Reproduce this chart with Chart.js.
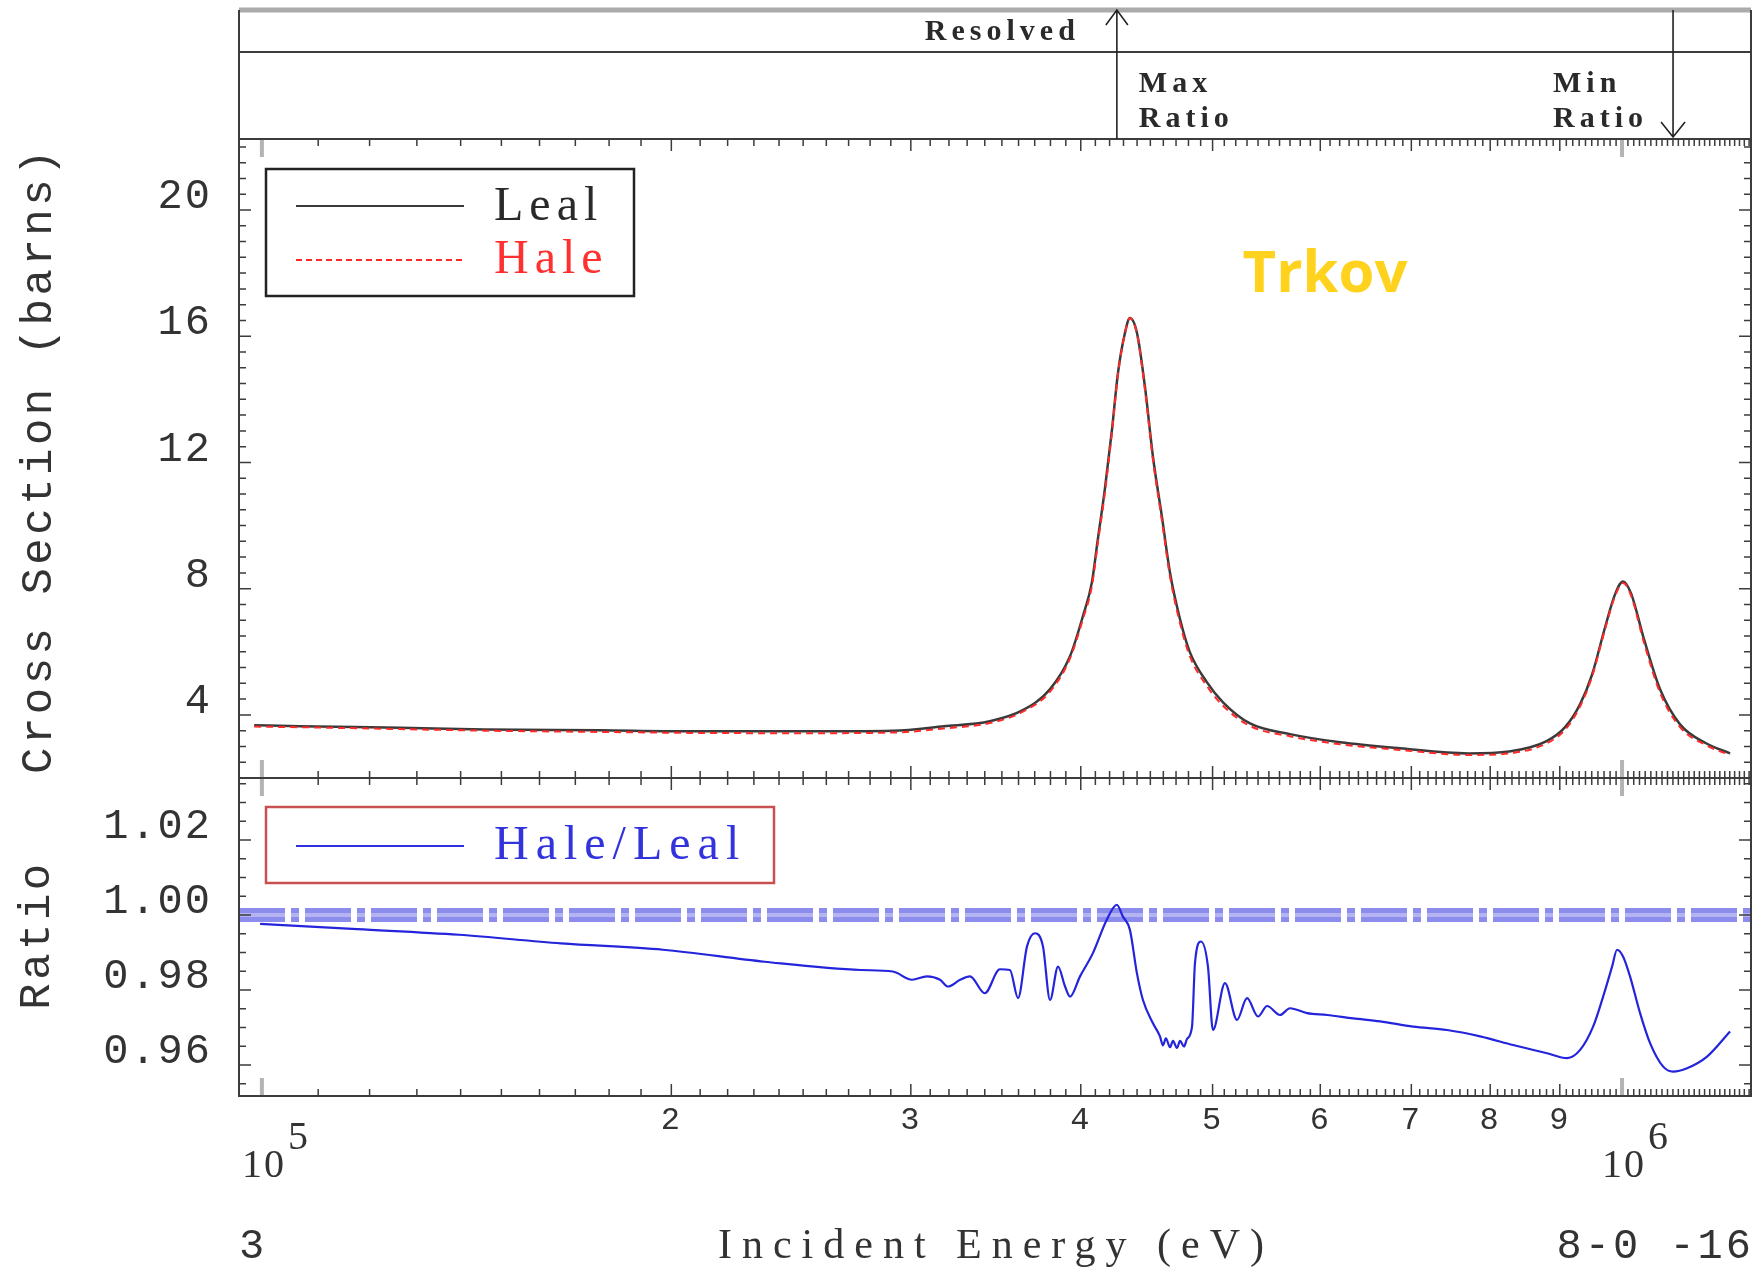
<!DOCTYPE html>
<html lang="en">
<head>
<meta charset="UTF-8">
<title>Cross Section - Hale / Leal</title>
<script src="https://cdn.jsdelivr.net/npm/chart.js"></script>
<style>
  body { margin: 0; background: #fff; }
  .wrap { position: relative; width: 1762px; height: 1275px; }
  .wrap canvas { position: absolute; left: 0; top: 0; }
</style>
</head>
<body>
<div class="wrap">
  <canvas id="xsChart" width="1762" height="1275"></canvas>
  <canvas id="ratioChart" width="1762" height="1275"></canvas>
</div>
<script>
// incident energy (eV) of the cross section points
const xsEnergy = [9.87e4, 1.067e5, 1.263e5, 1.459e5, 1.772e5, 2.061e5, 2.487e5, 2.910e5, 3.173e5, 3.429e5,
  3.626e5, 3.796e5, 3.927e5, 4.014e5, 4.076e5, 4.117e5, 4.166e5, 4.217e5, 4.260e5, 4.311e5,
  4.347e5, 4.399e5, 4.459e5, 4.520e5, 4.589e5, 4.652e5, 4.732e5, 4.812e5, 4.953e5, 5.089e5,
  5.327e5, 5.700e5, 6.205e5, 6.868e5, 7.706e5, 8.260e5, 8.794e5, 9.081e5, 9.315e5, 9.506e5,
  9.716e5, 9.882e5, 1.0017e6, 1.0154e6, 1.0380e6, 1.0665e6, 1.1032e6, 1.1528e6, 1.2007e6];
// cross sections (barns)
const lealXs = [3.67, 3.64, 3.59, 3.54, 3.51, 3.48, 3.48, 3.50, 3.64, 3.80,
  4.15, 4.81, 5.85, 7.12, 8.20, 9.56, 11.14, 13.04, 14.84, 16.11,
  16.58, 16.11, 14.40, 12.18, 10.28, 8.51, 7.03, 5.98, 5.03, 4.40,
  3.73, 3.39, 3.13, 2.94, 2.78, 2.84, 3.16, 3.61, 4.34, 5.28,
  6.77, 7.82, 8.23, 7.85, 6.39, 4.81, 3.70, 3.10, 2.78];
const haleXs = [3.63, 3.61, 3.55, 3.50, 3.46, 3.43, 3.42, 3.44, 3.57, 3.74,
  4.10, 4.73, 5.78, 7.03, 8.08, 9.44, 11.02, 12.96, 14.80, 16.10,
  16.58, 16.08, 14.31, 12.08, 10.16, 8.39, 6.90, 5.85, 4.91, 4.29,
  3.65, 3.32, 3.07, 2.89, 2.73, 2.78, 3.09, 3.53, 4.27, 5.22,
  6.71, 7.76, 8.18, 7.78, 6.28, 4.70, 3.61, 3.04, 2.73];

// Hale/Leal ratio
const ratioEnergy = [9.97e4, 1.175e5, 1.396e5, 1.659e5, 1.972e5, 2.343e5, 2.757e5, 2.910e5, 3.006e5, 3.083e5,
  3.152e5, 3.195e5, 3.261e5, 3.316e5, 3.400e5, 3.488e5, 3.548e5, 3.597e5, 3.652e5, 3.702e5,
  3.752e5, 3.797e5, 3.849e5, 3.895e5, 3.928e5, 3.995e5, 4.083e5, 4.180e5, 4.252e5, 4.295e5,
  4.347e5, 4.399e5, 4.444e5, 4.520e5, 4.574e5, 4.597e5, 4.620e5, 4.652e5, 4.676e5, 4.707e5,
  4.732e5, 4.764e5, 4.788e5, 4.829e5, 4.853e5, 4.903e5, 4.961e5, 5.003e5, 5.106e5, 5.211e5,
  5.300e5, 5.400e5, 5.483e5, 5.605e5, 5.700e5, 5.867e5, 6.070e5, 6.344e5, 6.640e5, 7.021e5,
  7.437e5, 7.864e5, 8.316e5, 8.808e5, 9.112e5, 9.315e5, 9.522e5, 9.685e5, 9.833e5, 9.916e5,
  1.0017e6, 1.0136e6, 1.0310e6, 1.0486e6, 1.0718e6, 1.0902e6, 1.1163e6, 1.1548e6, 1.2007e6];
const ratioValues = [0.9976, 0.9962, 0.9947, 0.9924, 0.9907, 0.9875, 0.9853, 0.9849, 0.9827, 0.9836,
  0.9827, 0.9809, 0.9827, 0.9836, 0.9791, 0.9855, 0.9853, 0.9778, 0.9916, 0.9951,
  0.9916, 0.9773, 0.9862, 0.9809, 0.9782, 0.9836, 0.9898, 0.9987, 1.0027, 0.9996,
  0.9960, 0.9844, 0.9773, 0.9711, 0.9676, 0.9652, 0.9671, 0.9647, 0.9664, 0.9645,
  0.9664, 0.9649, 0.9669, 0.9702, 0.9871, 0.9929, 0.9862, 0.9693, 0.9818, 0.9720,
  0.9778, 0.9729, 0.9757, 0.9733, 0.9751, 0.9738, 0.9733, 0.9724, 0.9716, 0.9702,
  0.9693, 0.9676, 0.9653, 0.9631, 0.9618, 0.9640, 0.9702, 0.9782, 0.9862, 0.9907,
  0.9889, 0.9836, 0.9738, 0.9658, 0.9596, 0.9582, 0.9591, 0.9622, 0.9689];

// axes
const X_MIN = 9.62e4, X_MAX = 1.244e6;
const xsTicks = [4, 8, 12, 16, 20];
const ratioTicks = [0.96, 0.98, 1.00, 1.02];
const energyTicks = [1e5, 2e5, 3e5, 4e5, 5e5, 6e5, 7e5, 8e5, 9e5, 1e6];
const energyTickLabels = ['', '2', '3', '4', '5', '6', '7', '8', '9', ''];
const decadeTicks = [1e5, 1e6];
const decadeExp = ['5', '6'];
const unityEnergy = [X_MIN, X_MAX];
const unityValues = [1, 1];

// energies of the max / min ratio, marked in the header
const maxRatioE = ratioEnergy[ratioValues.indexOf(Math.max(...ratioValues))];
const minRatioE = ratioEnergy[ratioValues.indexOf(Math.min(...ratioValues))];

const toPoints = (xs, ys) => xs.map((x, i) => ({ x: x, y: ys[i] }));

Chart.defaults.font.family = 'Liberation Mono';
Chart.defaults.color = '#333';

function frameAndTicks(chart, yVals, isMajor) {
  const { ctx, chartArea: a } = chart;
  const xs = chart.scales.x, ys = chart.scales.y;
  ctx.save();
  ctx.strokeStyle = '#3c3c3c';
  ctx.lineWidth = 1.5;
  ctx.beginPath();
  for (let k = 11; k <= 124; k++) {
    if (k === 100) continue;
    const px = xs.getPixelForValue(k * 1e4);
    const len = (k < 100 && k % 10 === 0) ? 12 : 7;
    ctx.moveTo(px, a.top); ctx.lineTo(px, a.top + len);
    ctx.moveTo(px, a.bottom); ctx.lineTo(px, a.bottom - len);
  }
  yVals.forEach(v => {
    const py = ys.getPixelForValue(v);
    const len = isMajor(v) ? 12 : 7;
    ctx.moveTo(a.left, py); ctx.lineTo(a.left + len, py);
    ctx.moveTo(a.right, py); ctx.lineTo(a.right - len, py);
  });
  ctx.stroke();

  ctx.strokeStyle = '#b4b4b4';
  ctx.lineWidth = 4;
  ctx.beginPath();
  decadeTicks.forEach(d => {
    const px = xs.getPixelForValue(d);
    ctx.moveTo(px, a.top); ctx.lineTo(px, a.top + 18);
    ctx.moveTo(px, a.bottom); ctx.lineTo(px, a.bottom - 18);
  });
  ctx.stroke();

  ctx.strokeStyle = '#3c3c3c';
  ctx.lineWidth = 2;
  ctx.strokeRect(a.left, a.top, a.width, a.height);
  ctx.restore();
}

function text(ctx, str, x, y, font, color, align, spacing) {
  ctx.font = font;
  ctx.fillStyle = color;
  ctx.textAlign = align;
  ctx.textBaseline = 'middle';
  ctx.letterSpacing = spacing + 'px';
  ctx.fillText(str, x, y);
}

function vText(ctx, str, x, y, font, spacing) {
  ctx.save();
  ctx.translate(x, y);
  ctx.rotate(-Math.PI / 2);
  text(ctx, str, 0, 0, font, '#333', 'center', spacing);
  ctx.restore();
}

// minor tick values
const xsMinor = [];
for (let k = 4; k <= 44; k++) xsMinor.push(k / 2);
const ratioMinor = [];
for (let k = 191; k <= 207; k++) ratioMinor.push(k / 200);

const xsDecor = {
  id: 'xsDecor',
  beforeDraw(chart) { chart.ctx.letterSpacing = '2px'; },
  afterDraw(chart) {
    const { ctx, chartArea: a } = chart;
    const xs = chart.scales.x;
    frameAndTicks(chart, xsMinor, v => v % 4 === 0);

    ctx.save();
    // header box
    ctx.strokeStyle = '#ababab';
    ctx.lineWidth = 5;
    ctx.beginPath(); ctx.moveTo(a.left, 10); ctx.lineTo(a.right, 10); ctx.stroke();
    ctx.strokeStyle = '#3c3c3c';
    ctx.lineWidth = 2;
    ctx.beginPath();
    ctx.moveTo(a.left, 10); ctx.lineTo(a.left, a.top);
    ctx.moveTo(a.right, 10); ctx.lineTo(a.right, a.top);
    ctx.moveTo(a.left, 52); ctx.lineTo(a.right, 52);
    ctx.stroke();

    const mx = xs.getPixelForValue(maxRatioE);
    const nx = xs.getPixelForValue(minRatioE);
    ctx.strokeStyle = '#222';
    ctx.lineWidth = 1.6;
    ctx.beginPath();
    ctx.moveTo(mx, 10); ctx.lineTo(mx, a.top);
    ctx.moveTo(mx - 11, 25); ctx.lineTo(mx, 10); ctx.lineTo(mx + 11, 25);
    ctx.moveTo(nx, 10); ctx.lineTo(nx, a.top - 2);
    ctx.moveTo(nx - 12, 122); ctx.lineTo(nx, a.top - 2); ctx.lineTo(nx + 12, 122);
    ctx.stroke();

    const hf = 'bold 30px "Liberation Serif"';
    text(ctx, 'Resolved', mx - 43 + 6, 32, hf, '#2a2a2a', 'right', 5);
    text(ctx, 'Max', mx + 22, 84, hf, '#2a2a2a', 'left', 5);
    text(ctx, 'Ratio', mx + 22, 119, hf, '#2a2a2a', 'left', 5);
    text(ctx, 'Min', nx - 120, 84, hf, '#2a2a2a', 'left', 5);
    text(ctx, 'Ratio', nx - 120, 119, hf, '#2a2a2a', 'left', 5);

    // legend
    ctx.strokeStyle = '#222';
    ctx.lineWidth = 2.5;
    ctx.strokeRect(266, 169, 368, 127);
    ctx.lineWidth = 2;
    ctx.strokeStyle = '#3a3a3a';
    ctx.beginPath(); ctx.moveTo(296, 206); ctx.lineTo(464, 206); ctx.stroke();
    ctx.strokeStyle = '#ff2a2a';
    ctx.setLineDash([6, 4]);
    ctx.beginPath(); ctx.moveTo(296, 260); ctx.lineTo(464, 260); ctx.stroke();
    ctx.setLineDash([]);
    text(ctx, 'Leal', 494, 207, '48px "Liberation Serif"', '#2a2a2a', 'left', 6);
    text(ctx, 'Hale', 494, 260, '48px "Liberation Serif"', '#ff3030', 'left', 6);

    text(ctx, 'Trkov', 1325, 275, 'bold 58px "Open Sans"', '#ffd21e', 'center', 0);

    vText(ctx, 'Cross Section (barns)', 39, 460, '44px "Liberation Mono"', 3.5);
    ctx.restore();
  }
};

const ratioDecor = {
  id: 'ratioDecor',
  beforeDraw(chart) { chart.ctx.letterSpacing = '2px'; },
  afterDraw(chart) {
    const { ctx } = chart;
    const xs = chart.scales.x;
    frameAndTicks(chart, ratioMinor, v => Math.round(v * 200) % 4 === 0);

    ctx.save();
    ctx.strokeStyle = '#c85050';
    ctx.lineWidth = 2.5;
    ctx.strokeRect(266, 807, 508, 76);
    ctx.strokeStyle = '#3030dd';
    ctx.lineWidth = 2;
    ctx.beginPath(); ctx.moveTo(296, 846); ctx.lineTo(464, 846); ctx.stroke();
    text(ctx, 'Hale/Leal', 494, 846, '48px "Liberation Serif"', '#3333dd', 'left', 7);

    vText(ctx, 'Ratio', 37, 935, '44px "Liberation Mono"', 3.5);

    // powers of ten under the axis
    decadeTicks.forEach((d, i) => {
      const px = xs.getPixelForValue(d) + 2;
      ctx.font = '40px "Liberation Serif"';
      ctx.letterSpacing = '2px';
      const w = ctx.measureText('10').width;
      text(ctx, '10', px, 1166, '40px "Liberation Serif"', '#333', 'center', 2);
      text(ctx, decadeExp[i], px + w / 2 + 2, 1138, '40px "Liberation Serif"', '#333', 'left', 0);
    });

    text(ctx, 'Incident Energy (eV)', 996, 1247, '42px "Liberation Serif"', '#333', 'center', 10);
    text(ctx, '3', 239, 1247, '42px "Liberation Mono"', '#333', 'left', 3);
    text(ctx, '8-0 -16', 1754, 1247, '42px "Liberation Mono"', '#333', 'right', 3);
    ctx.restore();
  }
};

const fixWidth = w => scale => { scale.width = w; };

new Chart(document.getElementById('xsChart'), {
  type: 'line',
  data: {
    datasets: [
      {
        label: 'Hale',
        data: toPoints(xsEnergy, haleXs),
        borderColor: '#ff2a2a',
        borderWidth: 2,
        borderDash: [7, 5],
        pointRadius: 0,
        cubicInterpolationMode: 'monotone'
      },
      {
        label: 'Leal',
        data: toPoints(xsEnergy, lealXs),
        borderColor: '#3a3a3a',
        borderWidth: 2.5,
        pointRadius: 0,
        cubicInterpolationMode: 'monotone'
      }
    ]
  },
  options: {
    responsive: false,
    animation: false,
    devicePixelRatio: 1,
    layout: { padding: { top: 139, right: 11, bottom: 497, left: 0 } },
    plugins: { legend: { display: false }, tooltip: { enabled: false } },
    scales: {
      x: { type: 'logarithmic', min: X_MIN, max: X_MAX, display: false },
      y: {
        type: 'linear',
        min: 2.0,
        max: 22.25,
        afterFit: fixWidth(239),
        afterBuildTicks: s => { s.ticks = xsTicks.map(v => ({ value: v })); },
        grid: { display: false, drawTicks: false },
        border: { display: false },
        ticks: {
          padding: 27,
          labelOffset: -13,
          font: { family: 'Liberation Mono', size: 42 },
          color: '#333'
        }
      }
    }
  },
  plugins: [xsDecor]
});

new Chart(document.getElementById('ratioChart'), {
  type: 'line',
  data: {
    datasets: [
      {
        label: 'Hale/Leal',
        data: toPoints(ratioEnergy, ratioValues),
        borderColor: '#2424dc',
        borderWidth: 2.2,
        pointRadius: 0,
        cubicInterpolationMode: 'monotone'
      },
      {
        label: 'unity-centre',
        data: toPoints(unityEnergy, unityValues),
        borderColor: 'rgba(255,255,255,0.35)',
        borderWidth: 4,
        borderDash: [46, 6, 8, 6],
        pointRadius: 0
      },
      {
        label: 'unity',
        data: toPoints(unityEnergy, unityValues),
        borderColor: 'rgba(95,95,228,0.72)',
        borderWidth: 14,
        borderDash: [46, 6, 8, 6],
        pointRadius: 0
      }
    ]
  },
  options: {
    responsive: false,
    animation: false,
    devicePixelRatio: 1,
    layout: { padding: { top: 778, right: 11, bottom: 0, left: 0 } },
    plugins: { legend: { display: false }, tooltip: { enabled: false } },
    scales: {
      x: {
        type: 'logarithmic',
        min: X_MIN,
        max: X_MAX,
        afterFit: s => { s.height = 179; },
        afterBuildTicks: s => { s.ticks = energyTicks.map(v => ({ value: v })); },
        grid: { display: false, drawTicks: false },
        border: { display: false },
        ticks: {
          autoSkip: false,
          maxRotation: 0,
          padding: 5,
          font: { family: 'Liberation Mono', size: 32 },
          color: '#333',
          callback: (v, i) => energyTickLabels[i]
        }
      },
      y: {
        type: 'linear',
        min: 0.9517,
        max: 1.0365,
        afterFit: fixWidth(239),
        afterBuildTicks: s => { s.ticks = ratioTicks.map(v => ({ value: v })); },
        grid: { display: false, drawTicks: false },
        border: { display: false },
        ticks: {
          padding: 27,
          labelOffset: -13,
          font: { family: 'Liberation Mono', size: 42 },
          color: '#333',
          callback: v => v.toFixed(2)
        }
      }
    }
  },
  plugins: [ratioDecor]
});
</script>
</body>
</html>
